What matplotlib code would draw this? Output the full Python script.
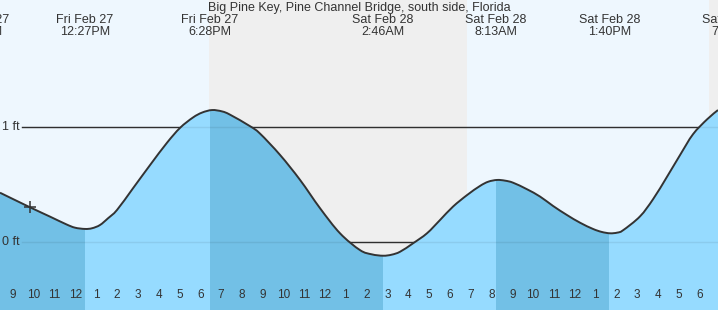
import matplotlib
matplotlib.use("Agg")
import matplotlib.pyplot as plt
from matplotlib.path import Path
from matplotlib.patches import PathPatch
from matplotlib.transforms import blended_transform_factory

# hours counted from Fri Feb 27 00:00, heights (ft)
hours = [8.375, 9.82, 10.78, 11.55, 11.98, 12.46, 12.8, 13.18, 13.57, 14.0,
         14.77, 15.59, 16.40, 17.03, 17.65, 18.09, 18.57, 19.05, 19.43, 20.39,
         20.875, 21.84, 22.80, 23.76, 24.72, 25.68, 26.25, 26.79, 27.2, 27.61,
         28.23, 28.90, 29.53, 30.15, 30.83, 31.45, 31.85, 32.27, 32.65, 33.04,
         33.71, 34.34, 34.96, 35.63, 36.26, 36.88, 37.3, 37.70, 38.05, 38.33,
         39.14, 39.77, 40.44, 41.07, 41.69, 42.37, 42.89]
height_ft = [0.431, 0.304, 0.223, 0.157, 0.127, 0.116, 0.122, 0.150, 0.209, 0.281,
             0.47, 0.672, 0.865, 0.995, 1.085, 1.128, 1.15, 1.138, 1.11, 1.01,
             0.945, 0.759, 0.542, 0.296, 0.078, -0.068, -0.105, -0.117, -0.108, -0.082,
             -0.009, 0.078, 0.194, 0.31, 0.411, 0.49, 0.527, 0.542, 0.536, 0.518,
             0.461, 0.397, 0.316, 0.237, 0.170, 0.116, 0.090, 0.078, 0.084, 0.105,
             0.225, 0.375, 0.57, 0.76, 0.94, 1.07, 1.15]

# tide extremes (time, label)
extreme_hours = [7.45, 12.45, 18.467, 26.767, 32.217, 37.667, 43.58]
extreme_labels = [("Fri Feb 27", "7:27AM"), ("Fri Feb 27", "12:27PM"),
                  ("Fri Feb 27", "6:28PM"), ("Sat Feb 28", "2:46AM"),
                  ("Sat Feb 28", "8:13AM"), ("Sat Feb 28", "1:40PM"),
                  ("Sat Feb 28", "7:35PM")]

# night periods
nights = [(18.42, 30.84), (42.48, 44.0)]

now_hour = 9.82
now_height = 0.304

tick_hours = list(range(9, 43))
tick_labels = [str((h - 1) % 12 + 1) for h in tick_hours]

title = "Big Pine Key, Pine Channel Bridge, south side, Florida"


def smooth_path(xs, ys, bottom=None):
    """Catmull-Rom through the points, as cubic Bezier pieces"""
    pts = list(zip(xs, ys))
    verts = [pts[0]]
    codes = [Path.MOVETO]
    n = len(pts)
    for i in range(n - 1):
        p0 = pts[max(i - 1, 0)]
        p1 = pts[i]
        p2 = pts[i + 1]
        p3 = pts[min(i + 2, n - 1)]
        c1 = (p1[0] + (p2[0] - p0[0]) / 6, p1[1] + (p2[1] - p0[1]) / 6)
        c2 = (p2[0] - (p3[0] - p1[0]) / 6, p2[1] - (p3[1] - p1[1]) / 6)
        verts += [c1, c2, p2]
        codes += [Path.CURVE4] * 3
    if bottom is not None:
        verts += [(xs[-1], bottom), (xs[0], bottom), pts[0]]
        codes += [Path.LINETO, Path.LINETO, Path.CLOSEPOLY]
    return Path(verts, codes)


txt = "#333333"
plt.rcParams['font.family'] = ['Liberation Sans', 'DejaVu Sans']

fig = plt.figure(figsize=(7.18, 3.10), dpi=100)
ax = fig.add_axes([0, 0, 1, 1])
ax.set_xlim(8.375, 42.89)
ax.set_ylim(-0.589, 2.107)
ax.set_facecolor("#eef7fe")
for s in ax.spines.values():
    s.set_visible(False)

for a, b in nights:
    ax.axvspan(a, b, color="#efefef", zorder=0, lw=0)

# reference lines
for lvl in (0, 1):
    ax.axhline(lvl, xmin=22 / 718, color="#333333", lw=1, zorder=1)

water = PathPatch(smooth_path(hours, height_ft, bottom=-1), facecolor="#96dbff",
                  lw=0, zorder=2)
ax.add_patch(water)
# falling tide segments in darker blue
bounds = [hours[0]] + extreme_hours[1:-1] + [hours[-1]]
for i in range(len(bounds) - 1):
    if i % 2 == 0:
        span = ax.axvspan(bounds[i], bounds[i + 1], color="#72c0e6", lw=0, zorder=3)
        span.set_clip_path(water)

for lvl in (0, 1):
    ax.axhline(lvl, xmin=22 / 718, color="#000000", alpha=0.07, lw=1, zorder=4)

ax.add_patch(PathPatch(smooth_path(hours, height_ft), facecolor="none",
                       edgecolor="#333333", lw=1.4, zorder=5))
ax.plot([now_hour], [now_height], marker="+", ms=8, mew=1.1, color="#333333", zorder=6)

left = blended_transform_factory(ax.transAxes, ax.transData)
ax.text(2 / 718, 1, "1 ft", fontsize=9, color=txt, va="center", ha="left", transform=left)
ax.text(2 / 718, 0, "0 ft", fontsize=9, color=txt, va="center", ha="left", transform=left)

top = blended_transform_factory(ax.transData, ax.transAxes)
for h, (d, t) in zip(extreme_hours, extreme_labels):
    ax.text(h, 1 - 20 / 310, d, fontsize=9, color=txt, ha="center", va="center", transform=top)
    ax.text(h, 1 - 32 / 310, t, fontsize=9, color=txt, ha="center", va="center", transform=top)

ax.text(0.5, 1 - 7.5 / 310, title, fontsize=9, color=txt, ha="center", va="center",
        transform=ax.transAxes)

ax.set_xticks(tick_hours)
ax.set_xticklabels([])
ax.set_yticks([])
ax.tick_params(axis="x", direction="in", length=6, width=0.8, color="#333333")
for h, lab in zip(tick_hours, tick_labels):
    ax.text(h, 1 - 295.5 / 310, lab, fontsize=8.5, color=txt, ha="center",
            va="center", transform=top)
mid = tick_hours.index(24)
ax.xaxis.get_major_ticks()[mid].tick1line.set_markeredgewidth(2.2)

fig.savefig("out.png", dpi=100)
